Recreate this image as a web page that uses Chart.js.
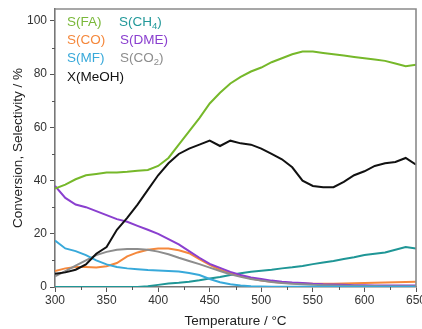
<!DOCTYPE html>
<html>
<head>
<meta charset="utf-8">
<script src="https://cdn.jsdelivr.net/npm/chart.js@4.4.0/dist/chart.umd.min.js"></script>
<style>
  html, body { margin: 0; padding: 0; background: #fff; }
</style>
</head>
<body>
<canvas id="chart-sel" width="422" height="329"></canvas>
<script>
// temperatures in °C, one reading every 10 °C
const temps = [300,310,320,330,340,350,360,370,380,390,400,410,420,430,440,450,460,470,480,490,500,510,520,530,540,550,560,570,580,590,600,610,620,630,640,650];
const sFA   = [37,38.5,40.5,42,42.5,43,43,43.3,43.7,44,45.5,48.5,53.5,58.5,63.5,69,73,76.5,79,81,82.5,84.5,86,87.5,88.5,88.5,88,87.5,87,86.5,86,85.5,85,84,83,83.5];
const sCH4  = [0,0,0,0,0,0,0,0,0,0.3,0.8,1.3,1.6,2,2.5,3.2,3.8,4.5,5.2,5.7,6.1,6.5,7,7.4,7.9,8.6,9.2,9.8,10.5,11.2,12,12.5,13,14,15,14.5];
const sCO   = [6,7,7.5,7.5,7.3,7.8,9,11.5,13,14,14.5,14.5,13.8,12.7,10.5,8.3,6.5,5.2,4.2,3.2,2.4,2,1.6,1.4,1.3,1.2,1.2,1.2,1.3,1.4,1.5,1.6,1.7,1.8,1.9,2];
const sDME  = [38,33.5,31,30,28.5,27,25.5,24.5,23,21.5,20,18,16,13.5,11,8.7,7.2,5.7,4.5,3.6,3,2.4,2,1.7,1.5,1.2,1,0.9,0.8,0.7,0.7,0.6,0.6,0.6,0.6,0.6];
const sMF   = [17.5,14.5,13.5,12,10,8.5,7.5,7,6.7,6.4,6.2,6,5.8,5.3,4.5,3,1.8,1,0.6,0.3,0.2,0.1,0.1,0.1,0.1,0.1,0.1,0.1,0.1,0.1,0.1,0.1,0.1,0.1,0.1,0.1];
const sCO2  = [4,6,8,10,12,13.2,14,14.3,14.3,14,13.3,12.3,11,9.8,8.6,7.3,6,4.8,3.8,3,2.4,1.9,1.5,1.2,1,0.8,0.7,0.6,0.5,0.5,0.4,0.4,0.3,0.3,0.3,0.3];
const xMeOH = [5,5.5,6.5,8.5,12.5,15,21.5,26,31,36.5,42,46.5,50,52,53.5,55,53,55,54,53.5,52,50,48,45,40,38,37.5,37.5,39.5,42,43.5,45.5,46.5,47,48.5,46];

const xTicks = [300,350,400,450,500,550,600,650];
const yTicks = [0,20,40,60,80,100];
const xMinor = [325,375,425,475,525,575,625];
const yMinor = [10,30,50,70,90];

const FONT = "'Liberation Sans', Arial, sans-serif";

function pts(vals) {
  return temps.map((t, i) => ({ x: t, y: vals[i] }));
}

function serie(label, vals, color) {
  return {
    label: label,
    data: pts(vals),
    borderColor: color,
    backgroundColor: color,
    borderWidth: 2,
    pointRadius: 0,
    tension: 0,
  };
}

// legend is plain coloured text in the plot, CH4 and CO2 have subscripts
const leyenda = [
  { x: 67, y: 25.5, parts: [["S(FA)", 0]], color: "#7ab83a" },
  { x: 119, y: 25.5, parts: [["S(CH", 0], ["4", 1], [")", 0]], color: "#23999a" },
  { x: 67, y: 44, parts: [["S(CO)", 0]], color: "#f5883c" },
  { x: 120, y: 44, parts: [["S(DME)", 0]], color: "#8a3fcf" },
  { x: 67, y: 62, parts: [["S(MF)", 0]], color: "#38a9da" },
  { x: 120, y: 62, parts: [["S(CO", 0], ["2", 1], [")", 0]], color: "#8d8d8d" },
  { x: 67, y: 81, parts: [["X(MeOH)", 0]], color: "#111" },
];

const extras = {
  id: "extras",
  afterDraw(chart) {
    const ctx = chart.ctx;
    const a = chart.chartArea;
    const xs = chart.scales.x, ys = chart.scales.y;
    ctx.save();
    // marco
    ctx.strokeStyle = "#8a8a8a";
    ctx.lineWidth = 1.6;
    ctx.beginPath();
    ctx.moveTo(a.left, a.top);
    ctx.lineTo(a.right, a.top);
    ctx.lineTo(a.right, a.bottom);
    ctx.stroke();
    // ticks menores
    ctx.strokeStyle = "#555";
    ctx.lineWidth = 1;
    xMinor.forEach(v => {
      const px = Math.round(xs.getPixelForValue(v)) + 0.5;
      ctx.beginPath();
      ctx.moveTo(px, a.bottom);
      ctx.lineTo(px, a.bottom + 3);
      ctx.stroke();
    });
    yMinor.forEach(v => {
      const py = Math.round(ys.getPixelForValue(v)) + 0.5;
      ctx.beginPath();
      ctx.moveTo(a.left, py);
      ctx.lineTo(a.left - 3, py);
      ctx.stroke();
    });
    // leyenda
    ctx.textBaseline = "alphabetic";
    ctx.textAlign = "left";
    leyenda.forEach(it => {
      let cx = it.x;
      ctx.fillStyle = it.color;
      it.parts.forEach(([txt, sub]) => {
        ctx.font = (sub ? "9.5px " : "13.5px ") + FONT;
        ctx.fillText(txt, cx, it.y + (sub ? 3 : 0));
        cx += ctx.measureText(txt).width;
      });
    });
    ctx.restore();
  },
};

new Chart(document.getElementById("chart-sel").getContext("2d"), {
  type: "line",
  data: {
    datasets: [
      serie("X(MeOH)", xMeOH, "#111111"),
      serie("S(FA)", sFA, "#76b82a"),
      serie("S(MF)", sMF, "#38a9da"),
      serie("S(CO2)", sCO2, "#8d8d8d"),
      serie("S(DME)", sDME, "#8a3fcf"),
      serie("S(CO)", sCO, "#f5883c"),
      serie("S(CH4)", sCH4, "#1f9696"),
    ],
  },
  options: {
    responsive: false,
    animation: false,
    layout: { padding: { top: 9, right: 6, left: 0, bottom: 0 } },
    plugins: { legend: { display: false }, tooltip: { enabled: false } },
    scales: {
      x: {
        type: "linear",
        min: 300,
        max: 650,
        afterBuildTicks: s => { s.ticks = xTicks.map(v => ({ value: v })); },
        afterFit: s => { s.height = 42; s.paddingLeft = 0; s.paddingRight = 0; },
        ticks: { color: "#333", font: { family: FONT, size: 12 }, padding: 1, maxRotation: 0 },
        grid: { drawOnChartArea: false, tickLength: 5, tickColor: "#555", tickWidth: 1 },
        border: { color: "#777", width: 1.6 },
        title: { display: true, text: "Temperature / °C", color: "#222", font: { family: FONT, size: 13.5 }, padding: { top: 0, bottom: 0 } },
      },
      y: {
        min: 0,
        max: 104.5,
        afterBuildTicks: s => { s.ticks = yTicks.map(v => ({ value: v })); },
        afterFit: s => { s.width = 55; s.paddingTop = 0; s.paddingBottom = 0; },
        ticks: { color: "#333", font: { family: FONT, size: 12 }, padding: 3 },
        grid: { drawOnChartArea: false, tickLength: 5, tickColor: "#555", tickWidth: 1 },
        border: { color: "#777", width: 1.6 },
        title: { display: true, text: "Conversion, Selectivity / %", color: "#222", font: { family: FONT, size: 13.5 }, padding: { top: 10, bottom: 0 } },
      },
    },
  },
  plugins: [extras],
});
</script>
</body>
</html>
